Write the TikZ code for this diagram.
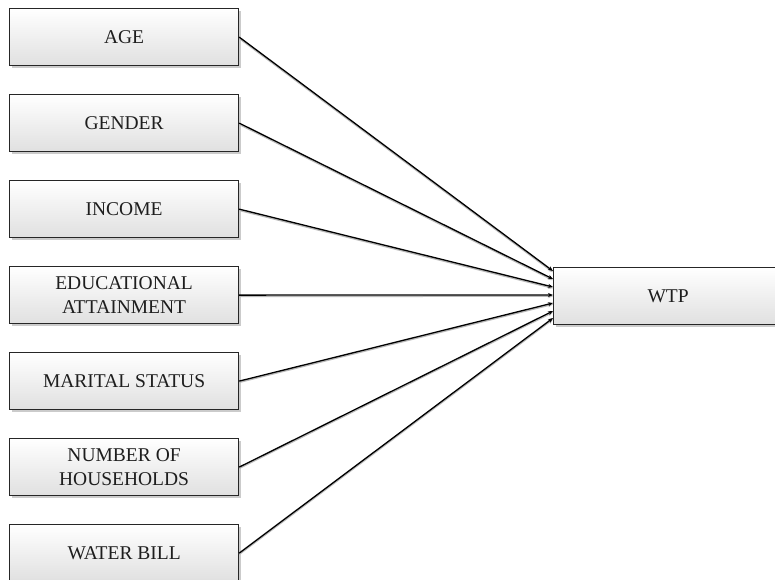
\documentclass[tikz,border=0pt]{standalone}
\usepackage{fontspec}
\setmainfont{Liberation Serif}
\usetikzlibrary{arrows.meta,shadows,calc}
\definecolor{boxline}{HTML}{262626}
\definecolor{boxbot}{HTML}{E0E0E0}
\definecolor{txt}{HTML}{1E1E1E}
\tikzset{
  varbox/.style={draw=boxline, line width=1.2pt, top color=white, bottom color=boxbot,
    minimum width=229pt, minimum height=57pt, anchor=north west, align=center,
    inner sep=0pt, text=txt, font=\fontsize{19.5}{24}\selectfont,
    drop shadow={shadow xshift=2pt, shadow yshift=-2pt, fill=gray!50, opacity=0.8}},
  link/.style={draw=black, line width=1.3pt,
    preaction={draw=gray!55, line width=1.5pt, transform canvas={yshift=-1.2pt}},
    -{Stealth[length=5pt,width=4pt]}}
}
\begin{document}
\begin{tikzpicture}[x=1pt,y=-1pt]
\clip (0,0) rectangle (775,579);
\fill[white] (0,0) rectangle (775,579);
\node[varbox] (age) at (9,8) {AGE};
\node[varbox] (gender) at (9,94) {GENDER};
\node[varbox] (income) at (9,180) {INCOME};
\node[varbox] (edu) at (9,266) {EDUCATIONAL\\ATTAINMENT};
\node[varbox] (marital) at (9,352) {MARITAL STATUS};
\node[varbox] (house) at (9,438) {NUMBER OF\\HOUSEHOLDS};
\node[varbox] (water) at (9,524) {WATER BILL};
\node[varbox] (wtp) at (553,267) {WTP};
\coordinate (e1) at (553,271);
\coordinate (e2) at (553,279);
\coordinate (e3) at (553,287);
\coordinate (e4) at (553,295);
\coordinate (e5) at (553,303);
\coordinate (e6) at (553,311);
\coordinate (e7) at (553,318);
\draw[link] (age.east) -- (e1);
\draw[link] (gender.east) -- (e2);
\draw[link] (income.east) -- (e3);
\draw[link] (edu.east) -- (e4);
\draw[link] (marital.east) -- (e5);
\draw[link] (house.east) -- (e6);
\draw[link] (water.east) -- (e7);
\end{tikzpicture}
\end{document}
